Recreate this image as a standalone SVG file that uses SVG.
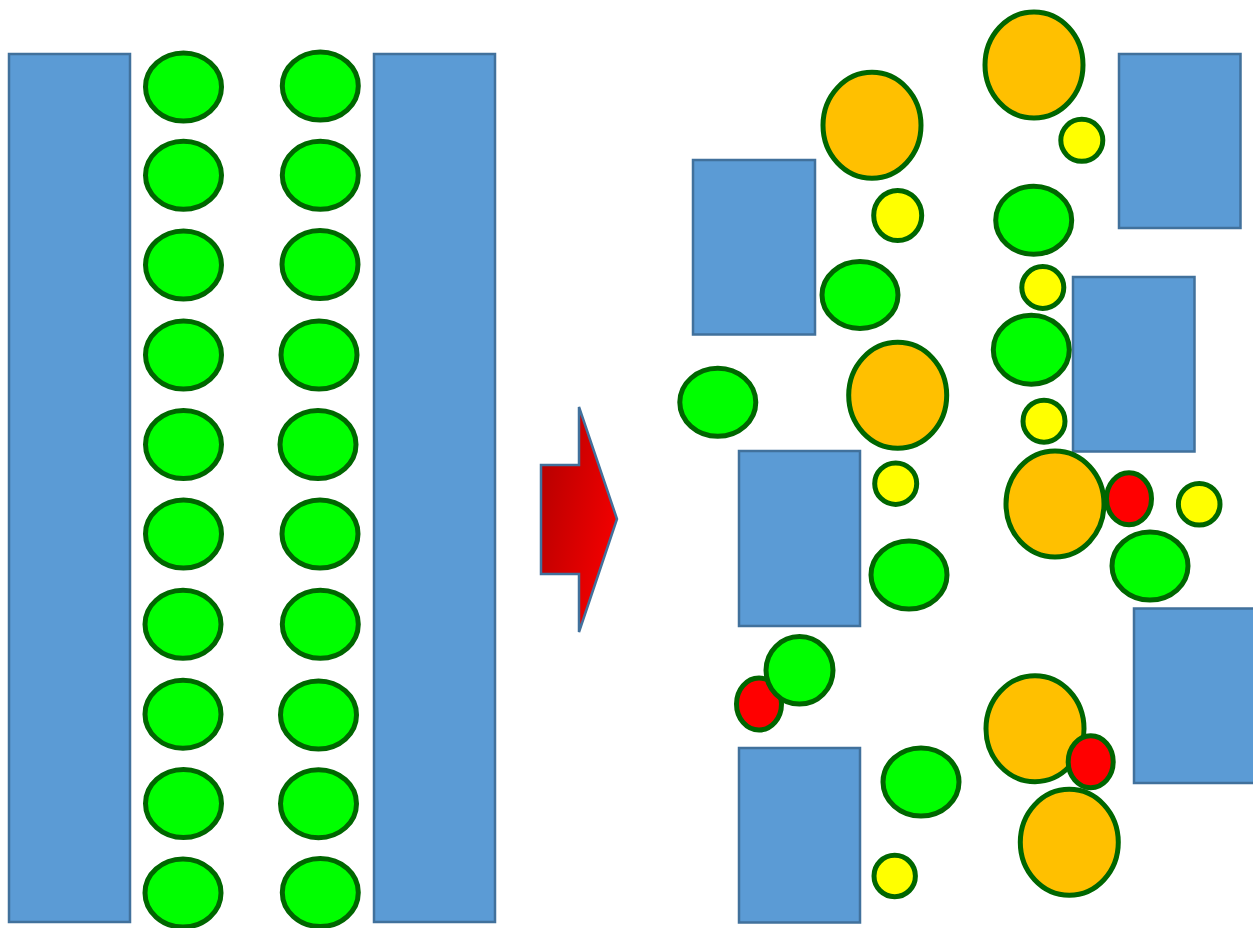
<svg xmlns="http://www.w3.org/2000/svg" width="1253" height="928" viewBox="0 0 1253 928">
<style>
.wall{fill:#5b9bd5;stroke:#41719c;stroke-width:2.5}
.g{fill:#00ff00;stroke:#006600;stroke-width:5}
.o{fill:#ffc000;stroke:#006600;stroke-width:5}
.y{fill:#ffff00;stroke:#006600;stroke-width:5}
.r{fill:#ff0000;stroke:#006600;stroke-width:5}
</style>
<defs>
<linearGradient id="arrowGrad" x1="0" y1="0" x2="1" y2="0.6">
<stop offset="0" stop-color="#b00000"/>
<stop offset="1" stop-color="#f40000"/>
</linearGradient>
</defs>
<rect width="1253" height="928" fill="#ffffff"/>
<g id="before">
<rect class="wall" x="9" y="54" width="121" height="868"/>
<rect class="wall" x="374" y="54" width="121" height="868"/>
<g id="col1">
<ellipse class="g" cx="183.5" cy="87" rx="38" ry="34"/>
<ellipse class="g" cx="183.5" cy="175.3" rx="38" ry="34"/>
<ellipse class="g" cx="183.5" cy="265" rx="38" ry="34"/>
<ellipse class="g" cx="183.5" cy="355" rx="38" ry="34"/>
<ellipse class="g" cx="183.5" cy="444.5" rx="38" ry="34"/>
<ellipse class="g" cx="183.5" cy="534" rx="38" ry="34"/>
<ellipse class="g" cx="183" cy="624.3" rx="38" ry="34"/>
<ellipse class="g" cx="183" cy="714.2" rx="38" ry="34"/>
<ellipse class="g" cx="183.5" cy="803.5" rx="38" ry="34"/>
<ellipse class="g" cx="183" cy="893" rx="38" ry="34"/>
</g>
<g id="col2">
<ellipse class="g" cx="320.3" cy="86" rx="38" ry="34"/>
<ellipse class="g" cx="320.3" cy="175.3" rx="38" ry="34"/>
<ellipse class="g" cx="320" cy="264.5" rx="38" ry="34"/>
<ellipse class="g" cx="319" cy="355" rx="38" ry="34"/>
<ellipse class="g" cx="318" cy="444.5" rx="38" ry="34"/>
<ellipse class="g" cx="320" cy="534" rx="38" ry="34"/>
<ellipse class="g" cx="320.3" cy="624.3" rx="38" ry="34"/>
<ellipse class="g" cx="318.5" cy="715" rx="38" ry="34"/>
<ellipse class="g" cx="318.5" cy="803.7" rx="38" ry="34"/>
<ellipse class="g" cx="320.3" cy="892.5" rx="38" ry="34"/>
</g>
</g>
<g id="arrow">
<polygon points="541,465 579,465 579,407 617,519 579,632 579,574 541,574" fill="url(#arrowGrad)" stroke="#41719c" stroke-width="2.5" stroke-linejoin="miter"/>
</g>
<g id="after">
<g id="walls">
<rect class="wall" x="693" y="160" width="122" height="174.5"/>
<rect class="wall" x="1119" y="54" width="121.5" height="174"/>
<rect class="wall" x="1073" y="277" width="121.5" height="174.5"/>
<rect class="wall" x="739" y="451" width="121" height="175"/>
<rect class="wall" x="1134" y="608.5" width="125" height="174.5"/>
<rect class="wall" x="739" y="748" width="121" height="174.5"/>
</g>
<g id="particles">
<ellipse class="o" cx="872" cy="125.3" rx="49" ry="53"/>
<ellipse class="o" cx="1034" cy="65" rx="49" ry="53"/>
<ellipse class="o" cx="897.7" cy="395.3" rx="49" ry="53"/>
<ellipse class="o" cx="1055" cy="504" rx="49" ry="53"/>
<ellipse class="o" cx="1035" cy="728.7" rx="49" ry="53"/>
<ellipse class="o" cx="1069.3" cy="842.3" rx="49" ry="53"/>
<ellipse class="y" cx="1081.8" cy="140.3" rx="21" ry="21"/>
<ellipse class="y" cx="897.7" cy="215.5" rx="24" ry="25"/>
<ellipse class="y" cx="1042.8" cy="287.5" rx="21" ry="21"/>
<ellipse class="y" cx="1044" cy="421.2" rx="21" ry="21"/>
<ellipse class="y" cx="895.7" cy="483.7" rx="21" ry="20.7"/>
<ellipse class="y" cx="1199.2" cy="504.2" rx="20.8" ry="20.8"/>
<ellipse class="y" cx="894.7" cy="876" rx="20.7" ry="20.7"/>
<ellipse class="g" cx="1033.7" cy="220.3" rx="38" ry="34"/>
<ellipse class="g" cx="860" cy="295" rx="38" ry="33.5"/>
<ellipse class="g" cx="1031.3" cy="349.7" rx="38" ry="34.5"/>
<ellipse class="g" cx="717.8" cy="402.3" rx="38" ry="34"/>
<ellipse class="g" cx="909" cy="575" rx="38" ry="34"/>
<ellipse class="g" cx="1150" cy="566" rx="38" ry="34"/>
<ellipse class="g" cx="921" cy="782" rx="38" ry="34"/>
<ellipse class="r" cx="1129" cy="498.7" rx="22.5" ry="26"/>
<ellipse class="r" cx="759" cy="704" rx="22.5" ry="26"/>
<ellipse class="g" cx="799.5" cy="670.3" rx="33.5" ry="33.8"/>
<ellipse class="r" cx="1090.7" cy="761.7" rx="22.5" ry="26"/>
</g>
</g>
</svg>
